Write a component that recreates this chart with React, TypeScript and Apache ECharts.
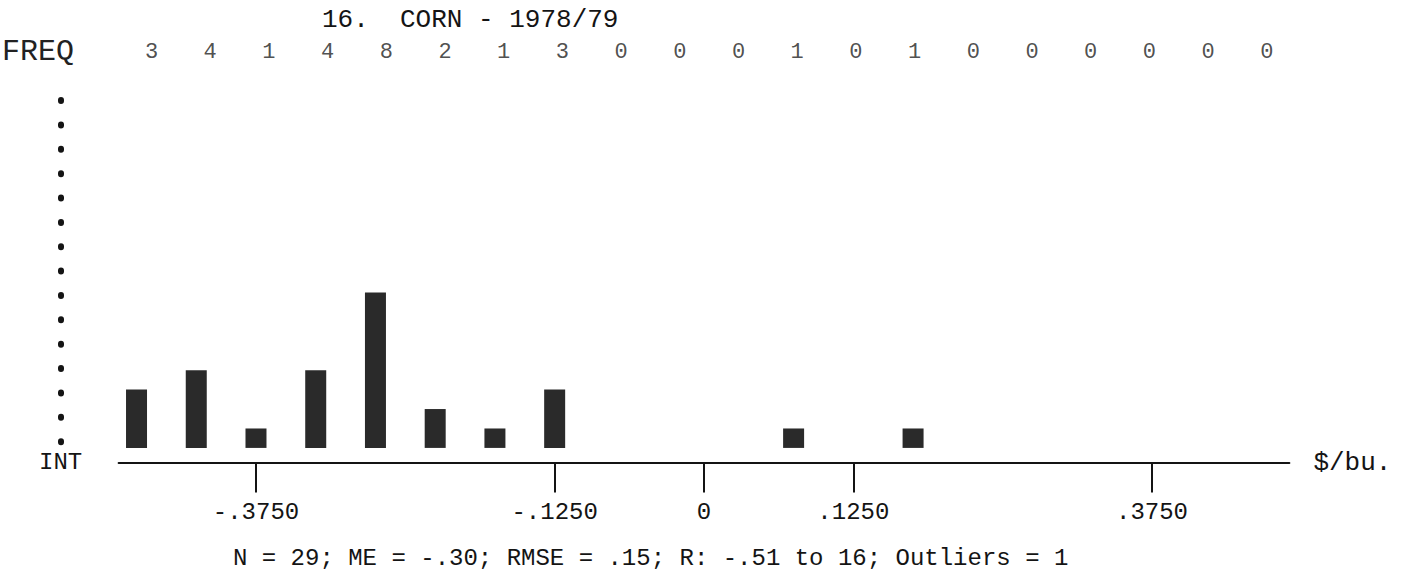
import React, { useEffect, useRef } from "react";
import * as echarts from "echarts";

// ---- data ----
const titleText = "16.  CORN - 1978/79";
const footerText = "N = 29; ME = -.30; RMSE = .15; R: -.51 to 16; Outliers = 1";
const binCenters = [
  -0.475, -0.425, -0.375, -0.325, -0.275, -0.225, -0.175, -0.125, -0.075, -0.025,
  0.025, 0.075, 0.125, 0.175, 0.225, 0.275, 0.325, 0.375, 0.425, 0.475,
];
const freq = [3, 4, 1, 4, 8, 2, 1, 3, 0, 0, 0, 1, 0, 1, 0, 0, 0, 0, 0, 0];
const tickValues = [-0.375, -0.125, 0, 0.125, 0.375];
const tickLabels = ["-.3750", "-.1250", "0", ".1250", ".3750"];

const MONO = "Liberation Mono";
const INK = "#141414";

export default function App() {
  const ref = useRef<HTMLDivElement>(null);
  useEffect(() => {
    if (!ref.current) return;
    const chart = echarts.init(ref.current, undefined, { renderer: "svg" });
    const gridLeft = 118.6;
    const gridRight = 134.6;
    const option: any = {
      animation: false,
      backgroundColor: "#ffffff",
      textStyle: { fontFamily: MONO, color: INK },
      title: {
        text: titleText,
        left: 317,
        top: 2,
        textStyle: { fontFamily: MONO, fontSize: 26, fontWeight: "normal", color: INK },
      },
      grid: [
        { left: gridLeft, right: gridRight, top: 98, bottom: 123.5 },
        { left: 122.15, right: 127.85, top: 37, height: 30 },
      ],
      xAxis: [
        {
          type: "value",
          gridIndex: 0,
          min: -0.49,
          max: 0.49,
          axisLine: { show: true, onZero: false, lineStyle: { color: INK, width: 2 } },
          axisTick: {
            show: true,
            customValues: tickValues,
            length: 30,
            lineStyle: { color: INK, width: 2 },
          },
          axisLabel: {
            show: true,
            customValues: tickValues,
            margin: 38,
            fontSize: 24,
            fontFamily: MONO,
            color: INK,
            formatter: (v: number) => {
              const i = tickValues.findIndex((t) => Math.abs(t - v) < 1e-9);
              return i >= 0 ? tickLabels[i] : "";
            },
          },
          splitLine: { show: false },
          name: "$/bu.",
          nameLocation: "end",
          nameGap: 24,
          nameTextStyle: {
            fontFamily: MONO,
            fontSize: 26,
            color: INK,
            align: "left",
            verticalAlign: "middle",
          },
        },
        {
          type: "category",
          gridIndex: 1,
          data: freq.map((_, i) => String(i)),
          boundaryGap: true,
          show: false,
        },
      ],
      yAxis: [
        {
          type: "value",
          gridIndex: 0,
          min: -0.75,
          max: 18,
          offset: 58,
          axisLine: {
            show: true,
            onZero: false,
            lineStyle: { color: INK, width: 6, cap: "round", type: [1, 23.36], dashOffset: 4.06 },
          },
          axisTick: { show: false },
          axisLabel: { show: false },
          splitLine: { show: false },
          name: "INT",
          nameLocation: "start",
          nameGap: 0,
          nameTextStyle: {
            fontFamily: MONO,
            fontSize: 24,
            color: INK,
            align: "center",
            verticalAlign: "middle",
          },
        },
        { type: "value", gridIndex: 1, min: 0, max: 1, show: false },
      ],
      series: [
        {
          type: "bar",
          xAxisIndex: 0,
          yAxisIndex: 0,
          barWidth: 21,
          data: binCenters.map((c, i) => [c, freq[i]]),
          itemStyle: { color: "#2a2a2a" },
        },
        {
          type: "scatter",
          xAxisIndex: 1,
          yAxisIndex: 1,
          symbolSize: 0.1,
          itemStyle: { color: "transparent" },
          data: freq.map((f, i) => [i, 0.5, f]),
          label: {
            show: true,
            position: "inside",
            fontFamily: MONO,
            fontSize: 22,
            color: "#222",
            formatter: (p: any) => String(p.data[2]),
          },
        },
      ],
      graphic: [
        {
          type: "text",
          left: 2,
          top: 37,
          style: { text: "FREQ", fontFamily: MONO, fontSize: 30, fill: "#222" },
        },
        {
          type: "text",
          left: 233,
          top: 546,
          style: { text: footerText, fontFamily: MONO, fontSize: 24, fill: INK },
        },
      ],
    };
    chart.setOption(option);
    return () => chart.dispose();
  }, []);
  return (
    <div
      ref={ref}
      style={{ position: "fixed", left: 0, top: 0, width: 1424, height: 586, background: "#fff" }}
    />
  );
}
